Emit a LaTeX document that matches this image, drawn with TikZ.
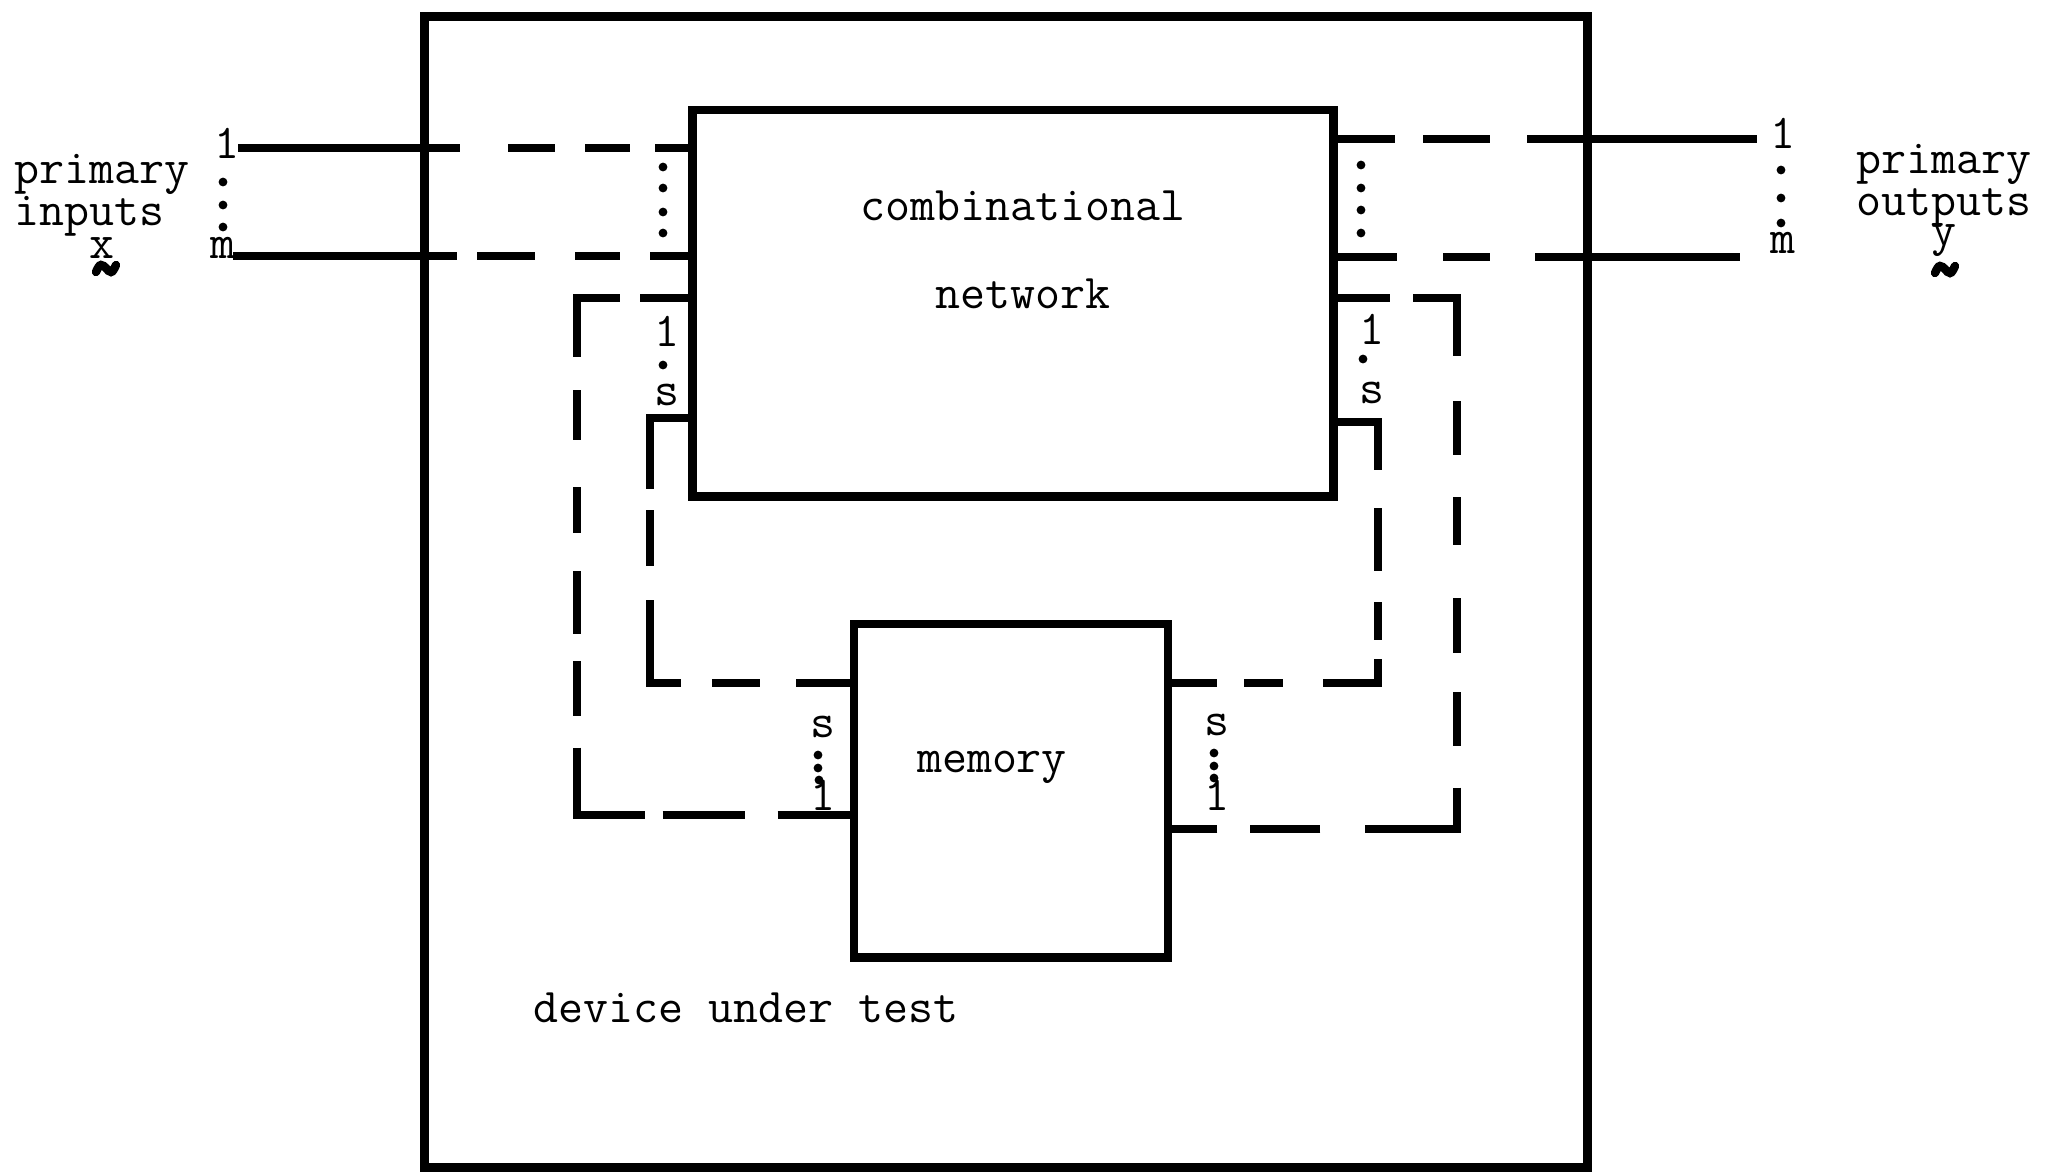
\documentclass[tikz,border=0pt]{standalone}
\usepackage{fontspec}
\begin{document}
\begin{tikzpicture}[x=0.01cm,y=-0.01cm,
  lbl/.style={font=\ttfamily\fontsize{13.8}{14}\selectfont, inner sep=0pt, anchor=base},
  mlbl/.style={font=\ttfamily\fontsize{13.8}{11.8}\selectfont, inner sep=0pt, align=left, anchor=north west},
  boxst/.style={draw, line width=2.5pt, inner sep=0pt, outer sep=0pt},
  conn/.style={line width=2.1pt, line join=miter},
  pdot/.style={circle, fill, inner sep=0pt, minimum size=2.5pt},
  vtilde/.style={line width=2.4pt, line cap=round},
]
\useasboundingbox (0,0) rectangle (2047,1175);
% boxes
\node[boxst, minimum width=11.62cm, minimum height=11.5cm] (dut) at (1006,592) {};
\node[boxst, minimum width=6.40cm, minimum height=3.86cm] (comb) at (1013,303) {};
\node[boxst, minimum width=3.14cm, minimum height=3.33cm] (mem) at (1011,790.5) {};
% box texts
\node[lbl] (tcomb) at (1023,220) {combinational};
\node[lbl] (tnet) at (1023,308) {network};
\node[lbl] (tmem) at (992,772) {memory};
\node[lbl] (tdut) at (746,1022) {device under test};
% primary inputs
\node[mlbl] (pin) at (14,147.85) {\rule{0pt}{10pt}primary\\inputs\\[-2.4pt]\hphantom{xxx}x};
\draw[vtilde] (96,272) sin (101,265) cos (106,268) sin (111,272) cos (116,265);
\node[lbl] (i1l) at (227,158) {1};
\node[pdot] (id1) at (223,182) {};
\node[pdot] (id2) at (223,205) {};
\node[pdot] (id3) at (223,227) {};
\node[lbl] (iml) at (223,258) {m};
\coordinate (i1) at (238,148);
\coordinate (im) at (233,256);
\draw[conn, dash pattern=on 22.2mm off 4.8mm on 4.7mm off 3mm on 4.5mm off 2.5mm on 10mm] (i1) -- (i1 -| comb.west);
\draw[conn, dash pattern=on 22.4mm off 2mm on 5.8mm off 4mm on 4.5mm off 3mm on 10mm] (im) -- (im -| comb.west);
% primary outputs
\node[mlbl] (pout) at (1856,137.85) {\rule{0pt}{10pt}primary\\outputs\\[-3.1pt]\hphantom{xxx}y};
\draw[vtilde] (1935,273) sin (1940,266) cos (1945,269) sin (1950,273) cos (1955,266);
\node[lbl] (o1l) at (1783,148) {1};
\node[pdot] (od1) at (1781,170) {};
\node[pdot] (od2) at (1781,198) {};
\node[pdot] (od3) at (1781,223) {};
\node[lbl] (oml) at (1783,253) {m};
\coordinate (o1) at (1757,139);
\coordinate (om) at (1740,257);
\draw[conn, dash pattern=on 6.2mm off 2.8mm on 6.7mm off 3.7mm on 30mm] (comb.east |- o1) -- (o1);
\draw[conn, dash pattern=on 6.4mm off 4.6mm on 4.7mm off 4.5mm on 30mm] (comb.east |- om) -- (om);
% dotted columns between primary lines
\node[pdot] (cl1) at (663,167) {};
\node[pdot] (cl2) at (663,188) {};
\node[pdot] (cl3) at (663,212) {};
\node[pdot] (cl4) at (663,233) {};
\node[pdot] (cr1) at (1361,165) {};
\node[pdot] (cr2) at (1361,188) {};
\node[pdot] (cr3) at (1361,210) {};
\node[pdot] (cr4) at (1361,233) {};
% comb port labels
\node[lbl] (cl1l) at (667,346) {1};
\node[pdot] (clsd) at (663,365) {};
\node[lbl] (clsl) at (667,405) {s};
\node[lbl] (cr1l) at (1372,344) {1};
\node[pdot] (crsd) at (1363,359) {};
\node[lbl] (crsl) at (1372,403) {s};
% memory port labels
\node[lbl] (mls) at (823,737) {s};
\node[pdot] (mld1) at (818,755) {};
\node[pdot] (mld2) at (818,768) {};
\node[pdot] (mld3) at (819,780) {};
\node[lbl] (ml1) at (823,810) {1};
\node[lbl] (mrs) at (1217,735) {s};
\node[pdot] (mrd1) at (1214,753) {};
\node[pdot] (mrd2) at (1214,766) {};
\node[pdot] (mrd3) at (1214,778) {};
\node[lbl] (mr1) at (1217,810) {1};
% feedback corners
\coordinate (lo1) at (577,298);
\coordinate (lo2) at (577,815);
\coordinate (li1) at (650,418);
\coordinate (li2) at (650,683);
\coordinate (ri1) at (1378,422);
\coordinate (ri2) at (1378,683);
\coordinate (ro1) at (1457,298);
\coordinate (ro2) at (1457,829);
% feedback connectors
\draw[conn, dash pattern=on 5.3mm off 2mm on 10.2mm off 3.3mm on 5mm off 4.7mm on 4.6mm off 3.8mm on 6.3mm off 2.7mm on 5.4mm off 3.2mm on 13.5mm off 1.8mm on 8.2mm off 3.3mm on 10mm]
  (lo1 -| comb.west) -- (lo1) -- (lo2) -- (lo2 -| mem.west);
\draw[conn, dash pattern=on 11.4mm off 2.1mm on 5.6mm off 3.4mm on 11.4mm off 3.1mm on 4.8mm off 3.6mm on 10mm]
  (li1 -| comb.west) -- (li1) -- (li2) -- (li2 -| mem.west);
\draw[conn, dash pattern=on 9.3mm off 3.8mm on 6.3mm off 3.1mm on 3.8mm off 1.9mm on 7.9mm off 4mm on 3.9mm off 2.7mm on 10mm]
  (ri1 -| comb.east) -- (ri1) -- (ri2) -- (ri2 -| mem.east);
\draw[conn, dash pattern=on 5.7mm off 2.3mm on 10.2mm off 4.5mm on 5.4mm off 4.2mm on 4.8mm off 5.3mm on 5.5mm off 3.9mm on 5.3mm off 4.2mm on 13.3mm off 4.5mm on 7mm off 3.3mm on 10mm]
  (ro1 -| comb.east) -- (ro1) -- (ro2) -- (ro2 -| mem.east);
\end{tikzpicture}
\end{document}
